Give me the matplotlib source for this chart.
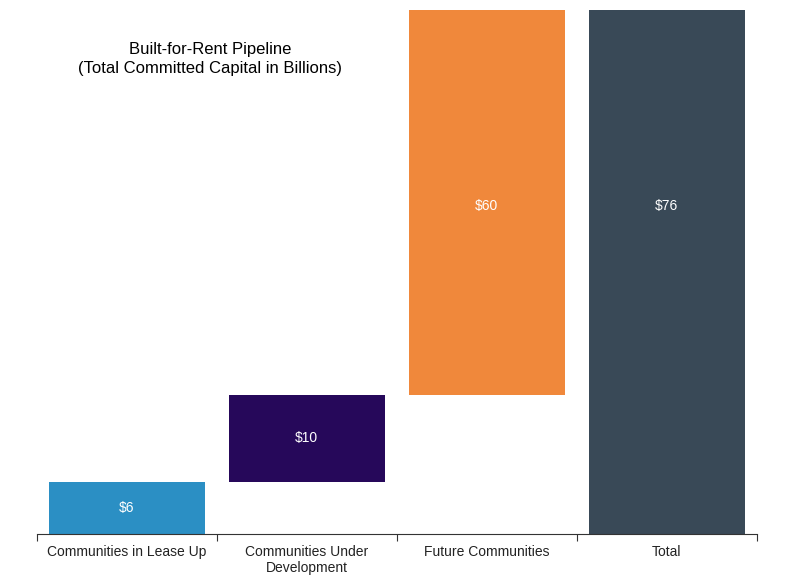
import matplotlib
matplotlib.use("Agg")
import matplotlib.pyplot as plt

plt.rcParams['font.family'] = ['Liberation Sans', 'DejaVu Sans']

# data
categories = ["Communities in Lease Up", "Communities Under\nDevelopment", "Future Communities", "Total"]
values = [6, 10, 60, 76]
labels = ["$6", "$10", "$60", "$76"]
colors = ["#2b8fc4", "#26085a", "#f0883b", "#394957"]

ymax = 60.2

fig = plt.figure(figsize=(8, 5.81), dpi=100)
ax = fig.add_axes([0.046, 0.081, 0.9, 0.902])

# waterfall bottoms
bottoms = []
run = 0
for v in values[:-1]:
    bottoms.append(run)
    run += v
bottoms.append(0)

x = range(len(categories))
ax.bar(x, values, bottom=bottoms, width=0.87, color=colors)

for i in x:
    top = min(bottoms[i] + values[i], ymax)
    mid = (bottoms[i] + top) / 2
    if top < bottoms[i] + values[i]:
        mid -= 0.4  # clipped bars
    if i == len(categories) - 1:
        # total label sits level with the previous one
        mid = (bottoms[i - 1] + min(bottoms[i - 1] + values[i - 1], ymax)) / 2 - 0.4
    ax.text(i, mid, labels[i], ha="center", va="center", color="white", fontsize=10)

ax.set_xlim(-0.5, len(categories) - 0.5)
ax.set_ylim(0, ymax)
ax.set_yticks([])
ax.set_xticks([i - 0.5 for i in range(len(categories) + 1)])
ax.set_xticklabels([])
ax.set_xticks(list(x), minor=True)
ax.set_xticklabels(categories, minor=True, fontsize=10, color="#222222")
ax.tick_params(axis="x", which="minor", length=0, pad=8)
ax.tick_params(axis="x", which="major", length=5, width=0.8, color="#333333")

for s in ["top", "right", "left"]:
    ax.spines[s].set_visible(False)
ax.spines["bottom"].set_color("#333333")
ax.spines["bottom"].set_linewidth(0.8)

fig.text(0.263, 0.898, "Built-for-Rent Pipeline\n(Total Committed Capital in Billions)",
         ha="center", va="center", fontsize=12, color="black", linespacing=1.35)

fig.savefig("out.png", dpi=100)
